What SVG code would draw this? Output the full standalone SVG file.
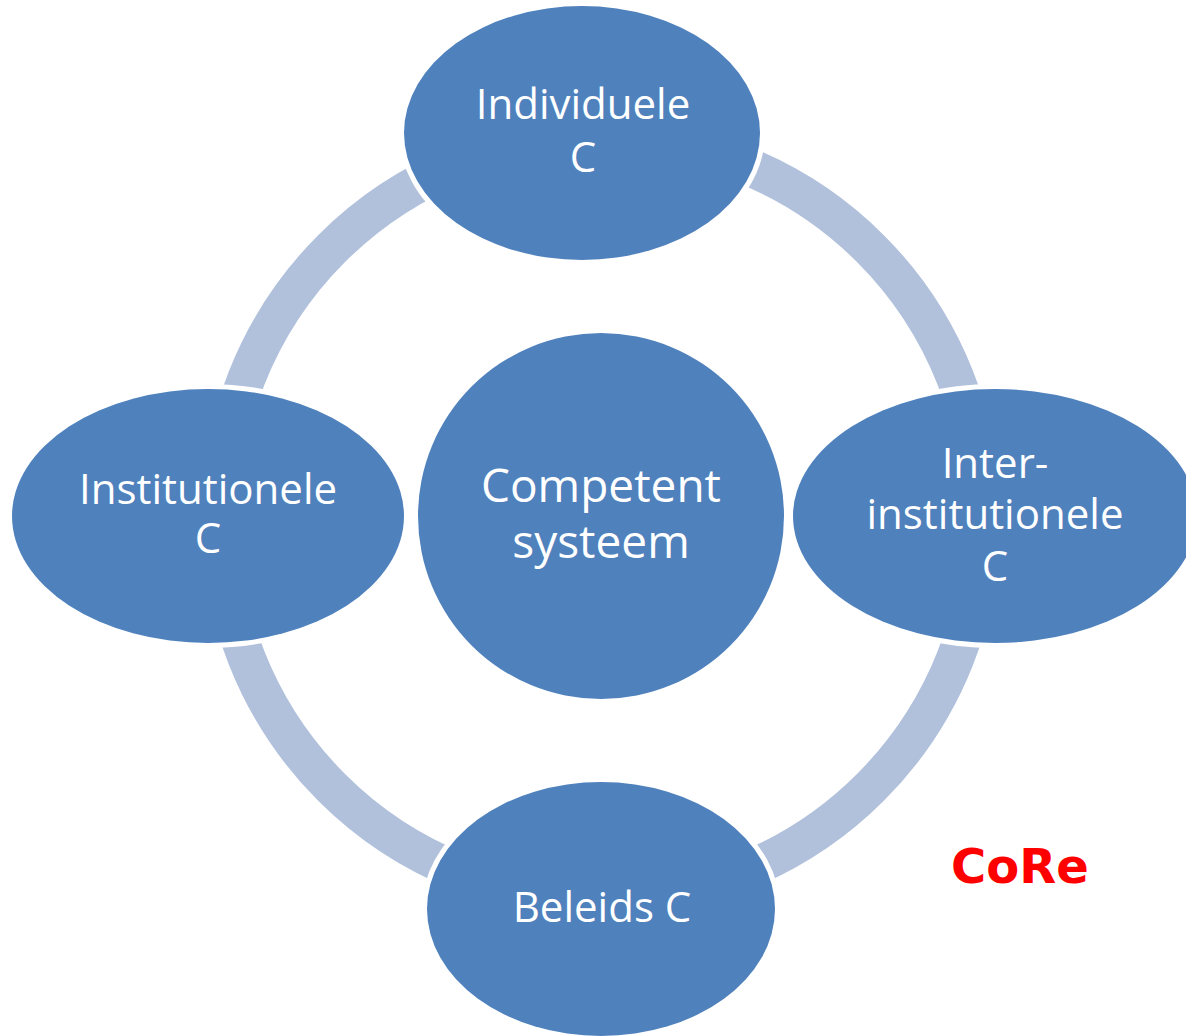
<svg xmlns="http://www.w3.org/2000/svg" width="1186" height="1036" viewBox="0 0 1186 1036">
<style>
.arc{fill:none;stroke:#B1C1DC;stroke-width:38}
.node{fill:#4F81BD;stroke:#FFFFFF;stroke-width:10;paint-order:stroke}
.lbl{font-family:"Open Sans","Liberation Sans",sans-serif;font-size:42px;fill:#FFFFFF;text-anchor:middle}
.big{font-size:46px}
.core{font-family:"DejaVu Sans",sans-serif;font-weight:bold;font-size:48px;fill:#FF0000}
</style>
<rect width="1186" height="1036" fill="#FFFFFF"/>
<g id="connectors">
<path class="arc" d="M 220 518 A 381 381 0 0 1 601 137"/>
<path class="arc" d="M 601 137 A 381 381 0 0 1 982 518"/>
<path class="arc" d="M 982 518 A 381 381 0 0 1 601 899"/>
<path class="arc" d="M 601 899 A 381 381 0 0 1 220 518"/>
</g>
<g id="node-center">
<circle class="node" cx="601" cy="516" r="183" stroke-width="0"/>
<text class="lbl big" x="601" y="502">Competent</text>
<text class="lbl big" x="601" y="558">systeem</text>
</g>
<g id="node-individuele">
<ellipse class="node" cx="582" cy="133" rx="178" ry="127"/>
<text class="lbl" x="583" y="119">Individuele</text>
<text class="lbl" x="583" y="172">C</text>
</g>
<g id="node-institutionele">
<ellipse class="node" cx="208" cy="516" rx="196" ry="127"/>
<text class="lbl" x="208" y="504">Institutionele</text>
<text class="lbl" x="208" y="553">C</text>
</g>
<g id="node-inter">
<ellipse class="node" cx="995" cy="516" rx="202" ry="127"/>
<text class="lbl" x="995" y="478">Inter-</text>
<text class="lbl" x="995" y="529">institutionele</text>
<text class="lbl" x="995" y="581">C</text>
</g>
<g id="node-beleids">
<ellipse class="node" cx="601" cy="909" rx="174" ry="127"/>
<text class="lbl" x="602" y="922">Beleids C</text>
</g>
<g id="label-core">
<text class="core" x="951" y="883">CoRe</text>
</g>
</svg>
